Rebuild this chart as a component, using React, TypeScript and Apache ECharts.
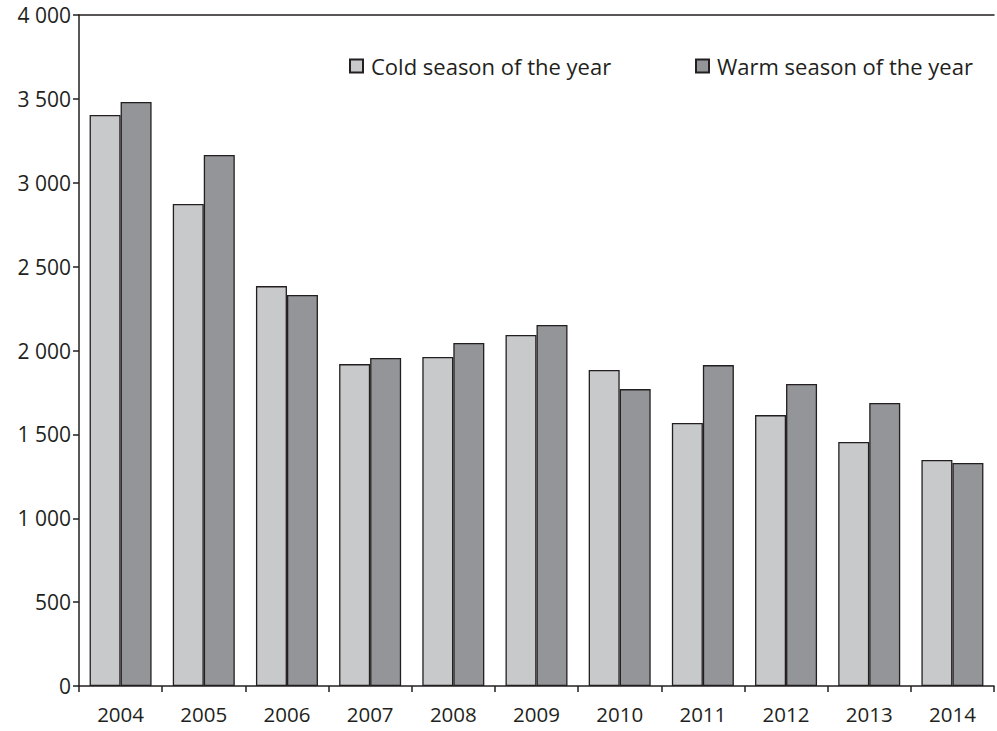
import React, { useEffect, useRef } from "react";
import * as echarts from "echarts";

const years = ["2004", "2005", "2006", "2007", "2008", "2009", "2010", "2011", "2012", "2013", "2014"];
const coldSeason = [3404, 2873, 2384, 1919, 1961, 2092, 1884, 1568, 1615, 1455, 1347];
const warmSeason = [3481, 3165, 2331, 1955, 2045, 2152, 1770, 1913, 1800, 1687, 1329];
const seriesNames = ["Cold season of the year", "Warm season of the year"];

const FONT = "'Open Sans', 'Noto Sans', sans-serif";

const legendBase = {
  top: 50,
  itemWidth: 13,
  itemHeight: 13,
  icon: "rect",
  textStyle: { fontFamily: FONT, fontSize: 22, color: "#231f20", padding: [0, 0, 0, 3] },
};

export default function App() {
  const ref = useRef<HTMLDivElement>(null);
  useEffect(() => {
    if (!ref.current) return;
    const chart = echarts.init(ref.current, undefined, { renderer: "svg" });
    chart.setOption({
      animation: false,
      backgroundColor: "#ffffff",
      grid: { left: 79, right: 3, top: 15, bottom: 45, containLabel: false },
      legend: [
        { ...legendBase, left: 344, data: [seriesNames[0]] },
        { ...legendBase, left: 690, data: [seriesNames[1]] },
      ],
      xAxis: [
        {
          type: "category",
          data: years,
          axisLine: { show: true, lineStyle: { color: "#231f20", width: 1.5 } },
          axisTick: { show: true, length: 6, lineStyle: { color: "#231f20", width: 1.5 } },
          axisLabel: { fontFamily: FONT, fontSize: 20.5, color: "#231f20", margin: 17 },
        },
        {
          type: "category",
          data: years,
          position: "top",
          axisLine: { show: true, lineStyle: { color: "#231f20", width: 1.5 } },
          axisTick: { show: false },
          axisLabel: { show: false },
        },
      ],
      yAxis: {
        type: "value",
        min: 0,
        max: 4000,
        interval: 500,
        axisLine: { show: true, lineStyle: { color: "#231f20", width: 1.5 } },
        axisTick: { show: true, length: 6, lineStyle: { color: "#231f20", width: 1.5 } },
        splitLine: { show: false },
        axisLabel: {
          fontFamily: FONT,
          fontSize: 21,
          color: "#231f20",
          margin: 8,
          formatter: (v: number) => String(v).replace(/\B(?=(\d{3})+(?!\d))/g, " "),
        },
      },
      series: [
        {
          name: seriesNames[0],
          type: "bar",
          data: coldSeason,
          barWidth: 31,
          barGap: "0%",
          itemStyle: { color: "#c8c9cb", borderColor: "#231f20", borderWidth: 1.3 },
        },
        {
          name: seriesNames[1],
          type: "bar",
          data: warmSeason,
          barWidth: 31,
          barGap: "0%",
          itemStyle: { color: "#939598", borderColor: "#231f20", borderWidth: 1.3 },
        },
      ],
    });
    return () => chart.dispose();
  }, []);
  return <div ref={ref} style={{ width: 997, height: 731, position: "absolute", left: 0, top: 0 }} />;
}
